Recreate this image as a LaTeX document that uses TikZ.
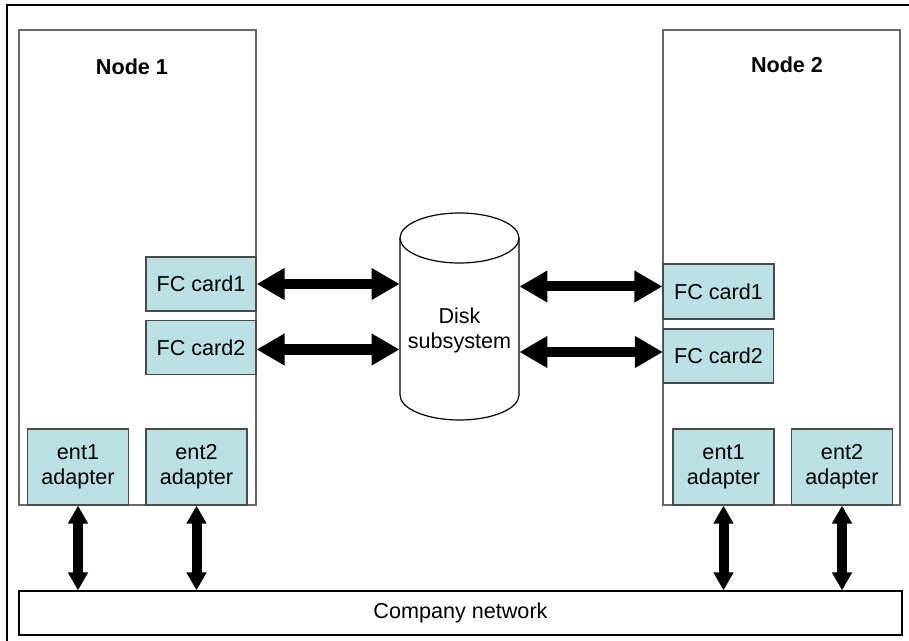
\documentclass[tikz,border=0pt]{standalone}
\usepackage{fontspec}
\setmainfont{Liberation Sans}
\usetikzlibrary{arrows.meta}
\definecolor{cardblue}{RGB}{187,224,227}
\definecolor{boxgray}{RGB}{105,105,105}
\tikzset{
  host/.style={draw=boxgray, line width=0.7pt, minimum width=118.5pt, minimum height=237.5pt, inner sep=0pt},
  card/.style={draw=boxgray!70!black, fill=cardblue, line width=0.6pt, inner sep=0pt, align=center},
  fccard/.style={card, minimum width=55pt, minimum height=27pt},
  entcard/.style={card, minimum width=50.5pt, minimum height=38pt},
  bigarrow/.style={line width=5pt, {Triangle[length=14pt,width=15pt]}-{Triangle[length=14pt,width=15pt]}},
  linkarrow/.style={line width=5pt, {Triangle[length=9pt,width=9.5pt]}-{Triangle[length=9pt,width=9.5pt]}},
}

\begin{document}
\begin{tikzpicture}[x=0.5pt, y=-0.5pt, font=\fontsize{10.8}{12.5}\selectfont]
\useasboundingbox (0,0) rectangle (909,641);
\draw[line width=0.8pt] (7,641) -- (7,5) -- (909,5);
\node[host] (node1) at (137.5,267.5) {};
\node[host] (node2) at (781.5,267.5) {};
\node[font=\fontsize{10.8}{12.5}\selectfont\bfseries] (lbl1) at (132,67) {Node 1};
\node[font=\fontsize{10.8}{12.5}\selectfont\bfseries] (lbl2) at (787,65) {Node 2};
\node[fccard] (fc11) at (201,284) {FC card1};
\node[fccard] (fc12) at (201,347.5) {FC card2};
\node[fccard, minimum width=55.5pt, minimum height=27.5pt] (fc21) at (718.5,291.5) {FC card1};
\node[fccard] (fc22) at (718.5,356) {FC card2};
\node[entcard] (ent11) at (78,467) {ent1\\adapter};
\node[entcard] (ent12) at (196.5,467) {ent2\\adapter};
\node[entcard] (ent21) at (723.5,467) {ent1\\adapter};
\node[entcard] (ent22) at (842,467) {ent2\\adapter};
\node[draw, line width=0.6pt, minimum width=441.5pt, minimum height=22pt, inner sep=0pt] (net) at (460.5,613) {Company network};
% disk
\draw[fill=white, line width=0.6pt] (400,238) -- (400,395) arc[start angle=180, end angle=0, x radius=59.5, y radius=25] -- (519,238);
\draw[fill=white, line width=0.6pt] (459.5,238) ellipse[x radius=59.5, y radius=25];
\node[align=center, minimum width=59.5pt, inner sep=0pt] (disk) at (459.5,330) {Disk\\subsystem};
\draw[bigarrow] (fc11.east) -- (fc11.east -| disk.west);
\draw[bigarrow] ([yshift=-1pt]fc12.east) -- ([yshift=-1pt]fc12.east -| disk.west);
\draw[bigarrow] ([yshift=2.5pt]fc21.west -| disk.east) -- ([yshift=2.5pt]fc21.west);
\draw[bigarrow] ([yshift=2pt]fc22.west -| disk.east) -- ([yshift=2pt]fc22.west);
\foreach \e in {ent11,ent12,ent21,ent22}
  \draw[linkarrow] (\e.south) -- (\e.south |- net.north);
\end{tikzpicture}
\end{document}
